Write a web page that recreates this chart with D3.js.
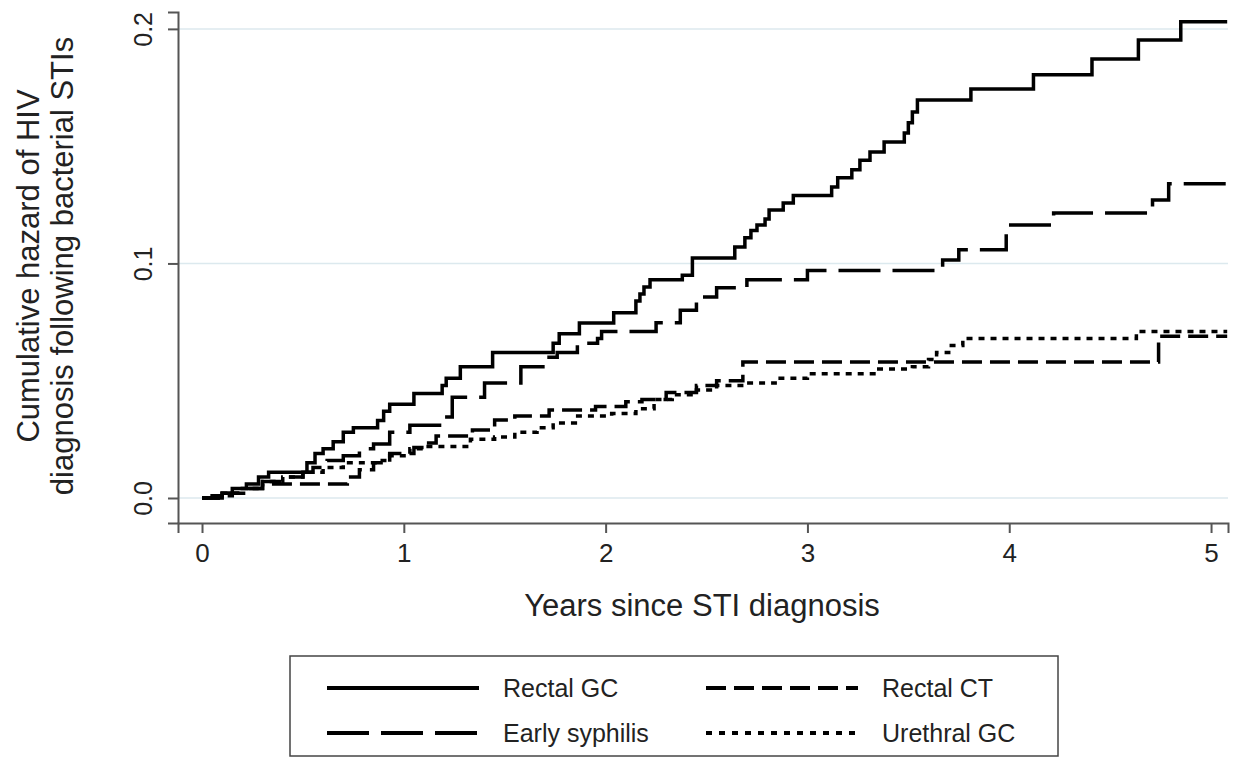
<!DOCTYPE html>
<html>
<head>
<meta charset="utf-8">
<script src="https://cdn.jsdelivr.net/npm/d3@7"></script>
<style>
  body { margin: 0; background: #fff; }
  svg { display: block; font-family: Arial, "Liberation Sans", Helvetica, sans-serif; }
</style>
</head>
<body>
<div id="chart"></div>
<script>
// years since STI diagnosis / cumulative hazard
var rectalGC_t = [0, 0.05, 0.10, 0.15, 0.22, 0.28, 0.33, 0.52, 0.56, 0.60, 0.65, 0.70, 0.75, 0.87, 0.90, 0.93, 1.05, 1.19, 1.21, 1.28, 1.44, 1.74, 1.77, 1.87, 2.04, 2.15, 2.17, 2.19, 2.22, 2.38, 2.43, 2.64, 2.69, 2.72, 2.75, 2.79, 2.81, 2.88, 2.93, 3.12, 3.15, 3.22, 3.26, 3.31, 3.38, 3.48, 3.50, 3.52, 3.545, 3.81, 4.12, 4.41, 4.64, 4.85, 5.08];
var rectalGC_h = [0, 0.001, 0.002, 0.004, 0.006, 0.009, 0.011, 0.015, 0.019, 0.021, 0.024, 0.028, 0.030, 0.033, 0.037, 0.040, 0.0445, 0.048, 0.051, 0.056, 0.062, 0.066, 0.070, 0.0746, 0.079, 0.084, 0.087, 0.090, 0.093, 0.095, 0.1023, 0.107, 0.111, 0.114, 0.1164, 0.119, 0.1228, 0.1258, 0.129, 0.1326, 0.1365, 0.1399, 0.144, 0.1475, 0.1518, 0.1556, 0.160, 0.1646, 0.1697, 0.1744, 0.1804, 0.1872, 0.1953, 0.203, 0.203];

var rectalCT_t = [0, 0.08, 0.15, 0.22, 0.30, 0.72, 0.78, 0.85, 0.93, 1.05, 1.10, 1.16, 1.34, 1.45, 1.55, 1.72, 1.95, 2.10, 2.18, 2.30, 2.45, 2.55, 2.68, 4.74, 5.08];
var rectalCT_h = [0, 0.001, 0.002, 0.004, 0.006, 0.009, 0.012, 0.015, 0.019, 0.0215, 0.0235, 0.0264, 0.029, 0.0333, 0.035, 0.0375, 0.039, 0.041, 0.042, 0.045, 0.048, 0.050, 0.058, 0.069, 0.069];

var syphilis_t = [0, 0.10, 0.20, 0.30, 0.40, 0.50, 0.55, 0.62, 0.70, 0.78, 0.85, 0.93, 1.03, 1.19, 1.24, 1.40, 1.58, 1.71, 1.76, 1.86, 1.96, 1.98, 2.25, 2.37, 2.45, 2.55, 2.70, 3.00, 3.67, 3.75, 3.985, 4.22, 4.71, 4.79, 5.08];
var syphilis_h = [0, 0.002, 0.004, 0.007, 0.009, 0.011, 0.013, 0.016, 0.018, 0.021, 0.023, 0.028, 0.031, 0.0345, 0.043, 0.049, 0.056, 0.060, 0.062, 0.066, 0.068, 0.071, 0.0747, 0.080, 0.0857, 0.0896, 0.093, 0.097, 0.1015, 0.1058, 0.1164, 0.1215, 0.127, 0.134, 0.134];

var urethralGC_t = [0, 0.10, 0.20, 0.30, 0.40, 0.50, 0.60, 0.70, 0.88, 0.93, 1.03, 1.10, 1.33, 1.45, 1.55, 1.66, 1.74, 1.85, 2.03, 2.15, 2.24, 2.33, 2.45, 2.55, 2.70, 2.84, 3.00, 3.34, 3.52, 3.60, 3.64, 3.70, 3.77, 4.63, 5.08];
var urethralGC_h = [0, 0.002, 0.004, 0.007, 0.009, 0.011, 0.013, 0.015, 0.016, 0.018, 0.021, 0.022, 0.025, 0.026, 0.028, 0.030, 0.032, 0.035, 0.036, 0.038, 0.042, 0.044, 0.046, 0.048, 0.049, 0.051, 0.053, 0.055, 0.056, 0.059, 0.062, 0.065, 0.068, 0.071, 0.071];

var seriesNames = ["Rectal GC", "Rectal CT", "Early syphilis", "Urethral GC"];
var xTicks = [0, 1, 2, 3, 4, 5];
var yTicks = [0, 0.1, 0.2];

var W = 1241, H = 764;

var svg = d3.select("#chart").append("svg")
    .attr("width", W)
    .attr("height", H);

// scales (axis lines run a little past the first/last tick, Stata style)
var x = d3.scaleLinear().domain([-0.119, 5.084]).range([178, 1228]);
var y = d3.scaleLinear().domain([-0.01066, 0.2072]).range([523, 12]);

// grid lines
svg.append("g")
    .selectAll("line")
    .data(yTicks)
    .enter()
    .append("line")
    .attr("x1", x(-0.119))
    .attr("x2", x(5.084))
    .attr("y1", function (d) { return y(d) })
    .attr("y2", function (d) { return y(d) })
    .attr("stroke", "#dce9ee")
    .attr("stroke-width", 1.5);

// x axis
var xAxis = svg.append("g")
    .attr("transform", "translate(0,523)")
    .call(d3.axisBottom(x).tickValues(xTicks).tickSize(10).tickPadding(11).tickFormat(d3.format("d")));
xAxis.select(".domain").attr("stroke", "#555").attr("stroke-width", 2);
xAxis.selectAll(".tick line").attr("stroke", "#555").attr("stroke-width", 2);
xAxis.selectAll(".tick text").attr("font-size", 26).attr("fill", "#222")
    .attr("font-family", "Arial, 'Liberation Sans', sans-serif");

// y axis
var yAxis = svg.append("g")
    .attr("transform", "translate(178,0)")
    .call(d3.axisLeft(y).tickValues(yTicks).tickSize(10).tickFormat(d3.format(".1f")));
yAxis.select(".domain").attr("stroke", "#555").attr("stroke-width", 2);
yAxis.selectAll(".tick line").attr("stroke", "#555").attr("stroke-width", 2);
yAxis.selectAll(".tick text")
    .attr("x", null).attr("dy", null)
    .attr("text-anchor", "middle")
    .attr("transform", "translate(-35,0) rotate(-90)")
    .attr("dy", "0.35em")
    .attr("font-size", 25).attr("fill", "#222")
    .attr("font-family", "Arial, 'Liberation Sans', sans-serif");

// axis titles
svg.append("text")
    .attr("x", 702).attr("y", 616)
    .attr("text-anchor", "middle")
    .attr("font-size", 31).attr("fill", "#222")
    .text("Years since STI diagnosis");

var yTitle = svg.append("text")
    .attr("transform", "translate(39,266) rotate(-90)")
    .attr("text-anchor", "middle")
    .attr("font-size", 31).attr("fill", "#222");
yTitle.append("tspan").attr("x", 0).attr("dy", 0).text("Cumulative hazard of HIV");
yTitle.append("tspan").attr("x", 0).attr("dy", 34).text("diagnosis following bacterial STIs");

// lines
var styles = {
    "Rectal GC": null,
    "Rectal CT": "20,8",
    "Early syphilis": "42,12",
    "Urethral GC": "6,6"
};
var allSeries = [
    { name: "Rectal GC", t: rectalGC_t, h: rectalGC_h },
    { name: "Rectal CT", t: rectalCT_t, h: rectalCT_h },
    { name: "Early syphilis", t: syphilis_t, h: syphilis_h },
    { name: "Urethral GC", t: urethralGC_t, h: urethralGC_h }
];

var line = d3.line()
    .curve(d3.curveStepAfter)
    .x(function (d) { return x(d[0]) })
    .y(function (d) { return y(d[1]) });

svg.append("g")
    .selectAll("path.km")
    .data(allSeries)
    .enter()
    .append("path")
    .attr("class", "km")
    .attr("fill", "none")
    .attr("stroke", "#000")
    .attr("stroke-width", 3.5)
    .attr("stroke-dasharray", function (d) { return styles[d.name] })
    .attr("d", function (d) { return line(d.t.map(function (v, i) { return [v, d.h[i]] })) });

// legend
var lg = svg.append("g");
lg.append("rect")
    .attr("x", 290).attr("y", 656)
    .attr("width", 768).attr("height", 100)
    .attr("fill", "none")
    .attr("stroke", "#444")
    .attr("stroke-width", 1.5);

var legendPos = [
    { name: "Rectal GC", lx: 327, ty: 688 },
    { name: "Rectal CT", lx: 706, ty: 688 },
    { name: "Early syphilis", lx: 327, ty: 733 },
    { name: "Urethral GC", lx: 706, ty: 733 }
];
legendPos.forEach(function (p) {
    lg.append("line")
        .attr("x1", p.lx).attr("x2", p.lx + 152)
        .attr("y1", p.ty).attr("y2", p.ty)
        .attr("stroke", "#000")
        .attr("stroke-width", 4)
        .attr("stroke-dasharray", p.name == "Urethral GC" ? "6,7" : styles[p.name]);
    lg.append("text")
        .attr("x", p.lx + 176).attr("y", p.ty)
        .attr("dy", "0.35em")
        .attr("font-size", 25).attr("fill", "#222")
        .text(p.name);
});
</script>
</body>
</html>
